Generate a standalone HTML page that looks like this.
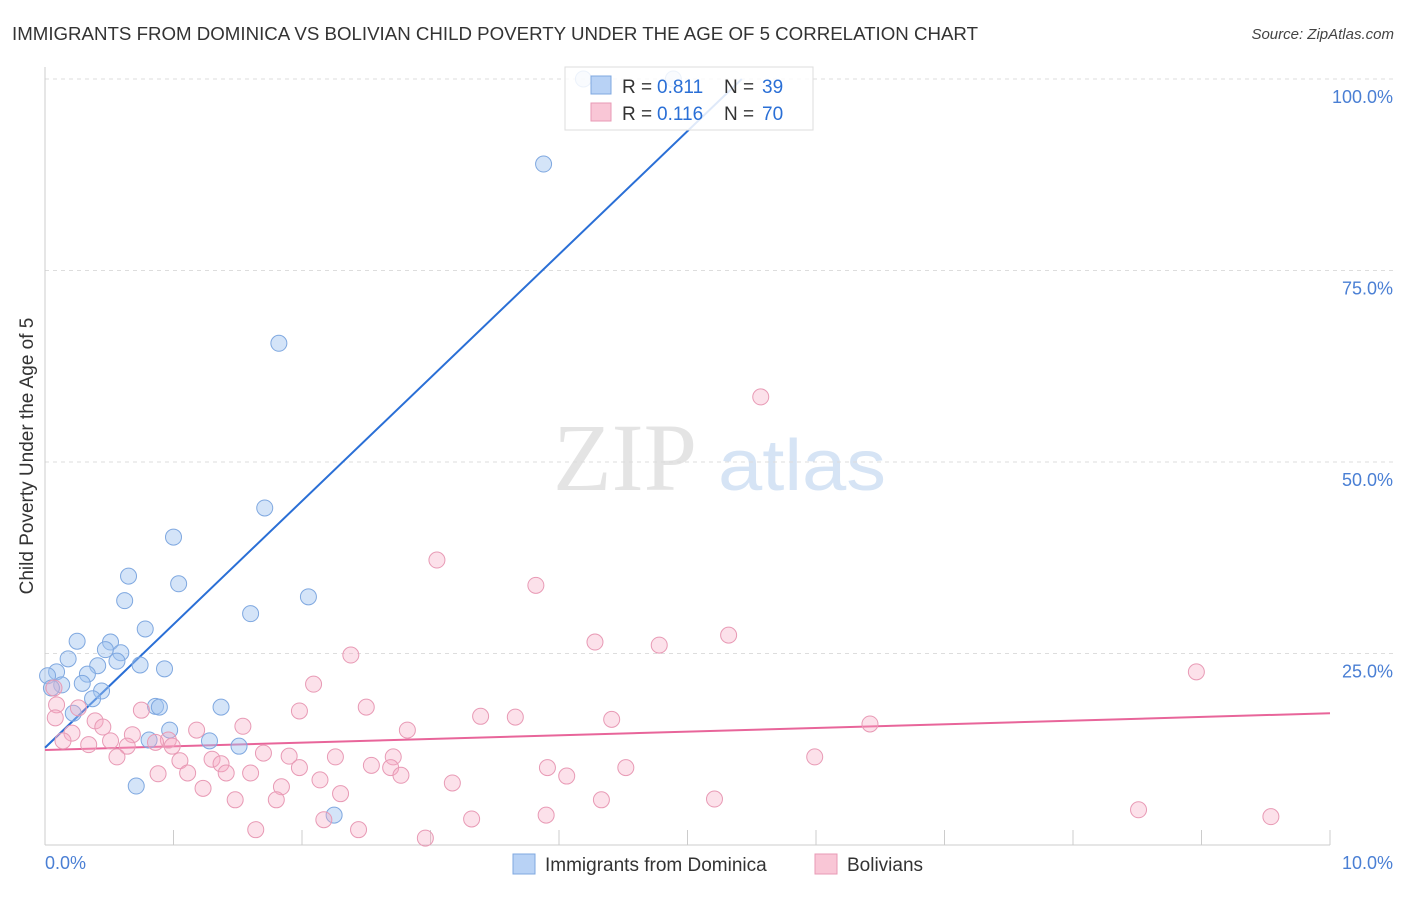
<!DOCTYPE html>
<html><head><meta charset="utf-8"><style>
body{margin:0;background:#fff;font-family:"Liberation Sans",sans-serif}
svg text{font-family:"Liberation Sans",sans-serif}
</style></head><body>
<svg id="c" width="1406" height="892" xmlns="http://www.w3.org/2000/svg">
<text x="12" y="40" font-size="18.5" fill="#333" textLength="966" lengthAdjust="spacingAndGlyphs">IMMIGRANTS FROM DOMINICA VS BOLIVIAN CHILD POVERTY UNDER THE AGE OF 5 CORRELATION CHART</text>
<text x="1394" y="39" font-size="15" fill="#444" font-style="italic" text-anchor="end">Source: ZipAtlas.com</text>
<g>
<text x="553" y="490" font-size="96" fill="#e4e4e4" style="font-family:'Liberation Serif',serif">ZIP</text>
<text x="718" y="490" font-size="72" fill="#d6e4f5" textLength="168" lengthAdjust="spacingAndGlyphs">atlas</text>
</g>
<g id="grid"></g><g id="lines"></g>
<g id="marks"></g>
<g>
<rect x="565" y="67" width="248" height="63" fill="#fff" fill-opacity="0.85" stroke="#ddd"/>
<rect x="591" y="76" width="20" height="18" fill="#b8d2f5" stroke="#7fa8e0"/>
<rect x="591" y="103" width="20" height="18" fill="#f9c6d6" stroke="#e89ab5"/>
<text x="622" y="93" font-size="19" fill="#333">R = </text><text x="657" y="93" font-size="19" fill="#2a6fd6">0.811</text>
<text x="724" y="93" font-size="19" fill="#333">N = </text><text x="762" y="93" font-size="19" fill="#2a6fd6">39</text>
<text x="622" y="120" font-size="19" fill="#333">R = </text><text x="657" y="120" font-size="19" fill="#2a6fd6">0.116</text>
<text x="724" y="120" font-size="19" fill="#333">N = </text><text x="762" y="120" font-size="19" fill="#2a6fd6">70</text>
</g>
<text x="33" y="456" font-size="19" fill="#333" text-anchor="middle" transform="rotate(-90 33 456)">Child Poverty Under the Age of 5</text>
<text x="45" y="869" font-size="18" fill="#4a7fd4">0.0%</text>
<text x="1393" y="869" font-size="18" fill="#4a7fd4" text-anchor="end">10.0%</text>
<g>
<rect x="513" y="854" width="22" height="20" fill="#b8d2f5" stroke="#7fa8e0"/>
<text x="545" y="871" font-size="19" fill="#333">Immigrants from Dominica</text>
<rect x="815" y="854" width="22" height="20" fill="#f9c6d6" stroke="#e89ab5"/>
<text x="847" y="871" font-size="19" fill="#333">Bolivians</text>
</g>
</svg>
<script>
const yTicks=[25,50,75,100];
const yTickLabels=["25.0%","50.0%","75.0%","100.0%"];
const blueX=[4.19,4.89,3.88,1.82,1.71,1.0,0.65,1.04,0.62,2.05,1.60,0.78,0.25,0.51,0.47,0.59,0.56,0.18,0.74,0.93,0.41,0.09,0.33,0.02,0.29,0.13,0.05,0.44,0.37,0.86,0.89,1.37,0.22,0.97,0.81,1.28,1.51,0.71,2.25];
const blueY=[100,100,88.9,65.5,44.0,40.2,35.1,34.1,31.9,32.4,30.2,28.2,26.6,26.5,25.5,25.1,24.0,24.3,23.5,23.0,23.4,22.6,22.3,22.1,21.1,20.9,20.5,20.1,19.1,18.1,18.0,18.0,17.2,15.0,13.7,13.6,12.9,7.7,3.9];
const pinkX=[5.57,3.05,3.82,5.32,4.28,4.78,2.38,8.96,2.09,0.07,0.09,2.50,1.98,0.75,0.26,3.39,3.66,4.41,0.39,0.08,0.45,1.54,6.42,2.82,1.18,0.21,0.68,0.14,0.51,0.96,0.86,0.34,0.64,0.99,1.70,1.90,2.26,2.71,0.56,1.30,5.99,1.05,1.37,2.54,1.98,2.69,3.91,4.52,0.88,1.11,1.41,1.60,2.77,4.06,2.14,3.17,1.23,1.84,2.30,1.48,1.80,4.33,5.21,8.51,3.90,9.54,2.17,3.32,1.64,2.44,2.96];
const pinkY=[58.5,37.2,33.9,27.4,26.5,26.1,24.8,22.6,21.0,20.5,18.3,18.0,17.5,17.6,17.9,16.8,16.7,16.4,16.2,16.6,15.4,15.5,15.8,15.0,15.0,14.6,14.4,13.6,13.6,13.7,13.4,13.1,12.9,12.9,12.0,11.6,11.5,11.5,11.5,11.2,11.5,11.0,10.6,10.4,10.1,10.1,10.1,10.1,9.3,9.4,9.4,9.4,9.1,9.0,8.5,8.1,7.4,7.6,6.7,5.9,5.9,5.9,6.0,4.6,3.9,3.7,3.3,3.4,2.0,2.0,0.9];
const blueFit=[12.7,16.1];
const pinkFit=[12.4,0.48];
const NS="http://www.w3.org/2000/svg";
const X=v=>45+v*128.5, Y=v=>845-v*7.66;
function mk(t,a,p){const e=document.createElementNS(NS,t);for(const k in a)e.setAttribute(k,a[k]);p.appendChild(e);return e;}
const grid=document.getElementById('grid'),marks=document.getElementById('marks'),lines=document.getElementById('lines');
yTicks.forEach((t,i)=>{
 const l=mk('line',{x1:45,x2:1393,y1:Y(t),y2:Y(t),stroke:'#ddd','stroke-dasharray':'4,4'},grid);
 
 
 const tx=mk('text',{x:1393,y:Y(t)+24,'font-size':18,fill:'#4a7fd4','text-anchor':'end'},grid);
 tx.textContent=yTickLabels[i];
 
 
});
const ax=mk('line',{x1:45,x2:45,y1:67,y2:845,stroke:'#ccc'},grid);


const bx=mk('line',{x1:45,x2:1330,y1:845,y2:845,stroke:'#ccc'},grid);


for(let i=1;i<=10;i++){
 const t=mk('line',{x1:X(i),x2:X(i),y1:830,y2:845,stroke:'#ccc'},grid);
 
 
}
blueX.forEach((v,i)=>{
 const c=mk('circle',{cx:X(v),cy:Y(blueY[i]),r:8,fill:'rgba(160,195,240,0.45)',stroke:'#7fa8e0','stroke-width':1},marks);
 
 
});
pinkX.forEach((v,i)=>{
 const c=mk('circle',{cx:X(v),cy:Y(pinkY[i]),r:8,fill:'rgba(245,170,195,0.35)',stroke:'#e89ab5','stroke-width':1},marks);
 
 
});
const bEnd=(100-blueFit[0])/blueFit[1];
const bl=mk('line',{x1:X(0),y1:Y(blueFit[0]),x2:X(bEnd),y2:Y(100),stroke:'#2a6fd6','stroke-width':2},lines);


const pl=mk('line',{x1:X(0),y1:Y(pinkFit[0]),x2:X(10),y2:Y(pinkFit[0]+10*pinkFit[1]),stroke:'#e8659a','stroke-width':2},lines);


</script>
</body></html>
